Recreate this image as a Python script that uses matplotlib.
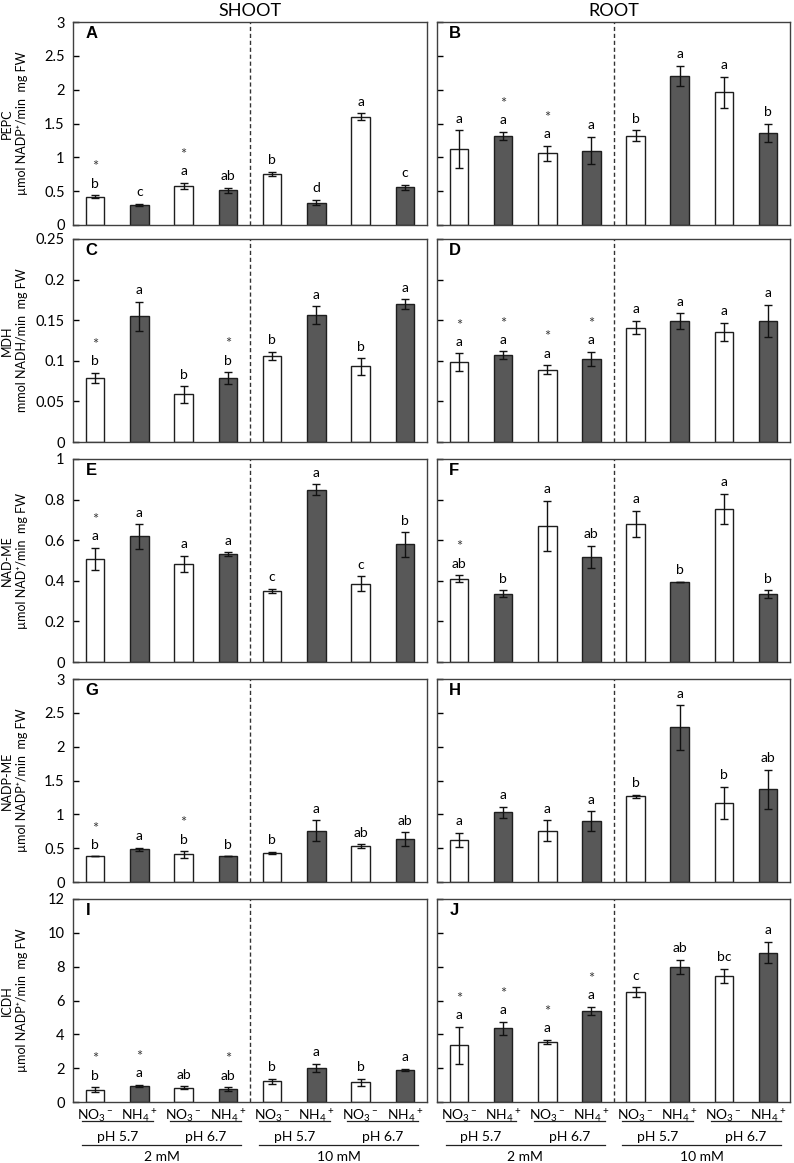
import numpy as np
import matplotlib
matplotlib.use('Agg')
from matplotlib import pyplot as plt
from matplotlib import transforms
from matplotlib.ticker import MultipleLocator, FormatStrFormatter

plt.rcParams['font.family'] = ['Lato', 'DejaVu Sans']
plt.rcParams['axes.linewidth'] = 1.0

# treatments (same order in every panel)
nitrogen = ['$\\mathregular{NO_3{}^-}$', '$\\mathregular{NH_4{}^+}$'] * 4
ph_labels = ['pH 5.7', 'pH 6.7', 'pH 5.7', 'pH 6.7']
conc_labels = ['2 mM', '10 mM']

# A  PEPC shoot
A_mean = [0.42, 0.295, 0.575, 0.51, 0.757, 0.33, 1.60, 0.556]
A_err = [0.02, 0.015, 0.05, 0.04, 0.03, 0.04, 0.05, 0.04]
A_let = ['b', 'c', 'a', 'ab', 'b', 'd', 'a', 'c']
A_star = [1, 0, 1, 0, 0, 0, 0, 0]
# B  PEPC root
B_mean = [1.12, 1.32, 1.06, 1.10, 1.32, 2.20, 1.96, 1.36]
B_err = [0.28, 0.06, 0.11, 0.20, 0.08, 0.15, 0.23, 0.14]
B_let = ['a', 'a', 'a', 'a', 'b', 'a', 'a', 'b']
B_star = [0, 1, 1, 0, 0, 0, 0, 0]
# C  MDH shoot
C_mean = [0.079, 0.155, 0.0586, 0.079, 0.106, 0.156, 0.093, 0.170]
C_err = [0.006, 0.018, 0.010, 0.007, 0.005, 0.011, 0.010, 0.006]
C_let = ['b', 'a', 'b', 'b', 'b', 'a', 'b', 'a']
C_star = [1, 0, 0, 1, 0, 0, 0, 0]
# D  MDH root
D_mean = [0.098, 0.107, 0.089, 0.102, 0.141, 0.149, 0.136, 0.149]
D_err = [0.011, 0.0045, 0.0055, 0.009, 0.008, 0.0096, 0.011, 0.020]
D_let = ['a'] * 8
D_star = [1, 1, 1, 1, 0, 0, 0, 0]
# E  NAD-ME shoot
E_mean = [0.509, 0.619, 0.483, 0.532, 0.350, 0.849, 0.386, 0.579]
E_err = [0.055, 0.060, 0.040, 0.008, 0.010, 0.026, 0.036, 0.060]
E_let = ['a', 'a', 'a', 'a', 'c', 'a', 'c', 'b']
E_star = [1, 0, 0, 0, 0, 0, 0, 0]
# F  NAD-ME root
F_mean = [0.411, 0.336, 0.671, 0.519, 0.681, 0.396, 0.753, 0.334]
F_err = [0.016, 0.017, 0.123, 0.054, 0.064, 0.0, 0.075, 0.020]
F_let = ['ab', 'b', 'a', 'ab', 'a', 'b', 'a', 'b']
F_star = [1, 0, 0, 0, 0, 0, 0, 0]
# G  NADP-ME shoot
G_mean = [0.378, 0.481, 0.407, 0.378, 0.427, 0.756, 0.53, 0.638]
G_err = [0.0, 0.027, 0.05, 0.0, 0.02, 0.155, 0.025, 0.10]
G_let = ['b', 'a', 'b', 'b', 'b', 'a', 'ab', 'ab']
G_star = [1, 0, 1, 0, 0, 0, 0, 0]
# H  NADP-ME root
H_mean = [0.62, 1.03, 0.76, 0.90, 1.265, 2.284, 1.17, 1.37]
H_err = [0.105, 0.08, 0.15, 0.145, 0.027, 0.33, 0.235, 0.285]
H_let = ['a', 'a', 'a', 'a', 'b', 'a', 'b', 'ab']
H_star = [0, 0, 0, 0, 0, 0, 0, 0]
# I  ICDH shoot
I_mean = [0.73, 0.96, 0.85, 0.77, 1.22, 2.0, 1.16, 1.89]
I_err = [0.14, 0.06, 0.08, 0.10, 0.15, 0.25, 0.22, 0.07]
I_let = ['b', 'a', 'ab', 'ab', 'b', 'a', 'b', 'a']
I_star = [1, 1, 0, 1, 0, 0, 0, 0]
# J  ICDH root
J_mean = [3.34, 4.36, 3.55, 5.37, 6.48, 8.0, 7.46, 8.83]
J_err = [1.12, 0.38, 0.12, 0.25, 0.29, 0.41, 0.41, 0.63]
J_let = ['a', 'a', 'a', 'a', 'c', 'ab', 'bc', 'a']
J_star = [1, 1, 1, 1, 0, 0, 0, 0]

ylabels = ['PEPC\n\u00b5mol NADP\u207a/min  mg FW',
           'MDH\nmmol NADH/min  mg FW',
           'NAD-ME\n\u00b5mol NAD\u207a/min  mg FW',
           'NADP-ME\n\u00b5mol NADP\u207a/min  mg FW',
           'ICDH\n\u00b5mol NADP\u207a/min  mg FW']
ylims = [3, 0.25, 1, 3, 12]
ysteps = [0.5, 0.05, 0.2, 0.5, 2]

panels = [
    ('A', A_mean, A_err, A_let, A_star), ('B', B_mean, B_err, B_let, B_star),
    ('C', C_mean, C_err, C_let, C_star), ('D', D_mean, D_err, D_let, D_star),
    ('E', E_mean, E_err, E_let, E_star), ('F', F_mean, F_err, F_let, F_star),
    ('G', G_mean, G_err, G_let, G_star), ('H', H_mean, H_err, H_let, H_star),
    ('I', I_mean, I_err, I_let, I_star), ('J', J_mean, J_err, J_let, J_star),
]

W, H = 794, 1163
fig = plt.figure(figsize=(W / 100, H / 100), dpi=100)

tops = [22, 239, 459, 679, 899]
ph_ = 203
cols = [(73, 354), (437, 353)]
x = np.arange(8)
colors = ['white', '#585858'] * 4

for k, (name, mean, err, let, star) in enumerate(panels):
    row, col = k // 2, k % 2
    x0, w = cols[col]
    ax = fig.add_axes([x0 / W, 1 - (tops[row] + ph_) / H, w / W, ph_ / H])
    ax.bar(x, mean, width=0.42, color=colors, edgecolor='#1e1e1e', linewidth=1,
           yerr=err, capsize=3, error_kw=dict(ecolor='#111', elinewidth=1, capthick=1))
    ax.axvline(3.5, color='#333', ls=(0, (3, 2)), lw=1)
    ax.set_xlim(-0.5, 7.5)
    ax.set_ylim(0, ylims[row])
    ax.yaxis.set_major_locator(MultipleLocator(ysteps[row]))
    ax.yaxis.set_major_formatter(FormatStrFormatter('%g'))
    ax.tick_params(axis='y', direction='in', length=4, width=1, labelsize=10.5, pad=6)
    for s in ax.spines.values():
        s.set_color('#404040')
    if col == 1:
        ax.tick_params(axis='y', labelleft=False)
    else:
        ax.text(-0.165, 0.5, ylabels[row], transform=ax.transAxes, rotation=90,
                ha='center', va='center', multialignment='center', fontsize=9,
                linespacing=1.3)
    ax.text(0.035, 0.945, name, transform=ax.transAxes, fontsize=12,
            fontweight='bold', family=['Liberation Sans', 'DejaVu Sans'],
            ha='left', va='center')

    for i in range(8):
        top = mean[i] + err[i]
        ax.annotate(let[i], (x[i], top), xytext=(0, 4), textcoords='offset points',
                    ha='center', va='bottom', fontsize=10)
        if star[i]:
            ax.annotate('*', (x[i], top), xytext=(0, 15), textcoords='offset points',
                        ha='center', va='bottom', fontsize=10.5, color='#3a3a3a')

    if row == 4:
        ax.set_xticks(x)
        ax.set_xticklabels(nitrogen)
        ax.tick_params(axis='x', length=0, pad=4, labelsize=10)
        tr = transforms.blended_transform_factory(ax.transData, ax.transAxes)
        for p in range(4):
            a, b = 2 * p, 2 * p + 1
            ax.plot([a - 0.3, b + 0.3], [-0.094, -0.094], transform=tr,
                    clip_on=False, color='#222', lw=0.9)
            ax.text((a + b) / 2, -0.17, ph_labels[p], transform=tr,
                    ha='center', va='center', fontsize=10)
        for g in range(2):
            a, b = 4 * g, 4 * g + 3
            ax.plot([a - 0.3, b + 0.3], [-0.212, -0.212], transform=tr,
                    clip_on=False, color='#222', lw=0.9)
            ax.text((a + b) / 2, -0.272, conc_labels[g], transform=tr,
                    ha='center', va='center', fontsize=10)
    else:
        ax.set_xticks([])

fig.text((73 + 354 / 2) / W, 1 - 11 / H, 'SHOOT', ha='center', va='center', fontsize=13)
fig.text((437 + 353 / 2) / W, 1 - 11 / H, 'ROOT', ha='center', va='center', fontsize=13)

fig.savefig('out.png', dpi=100)
